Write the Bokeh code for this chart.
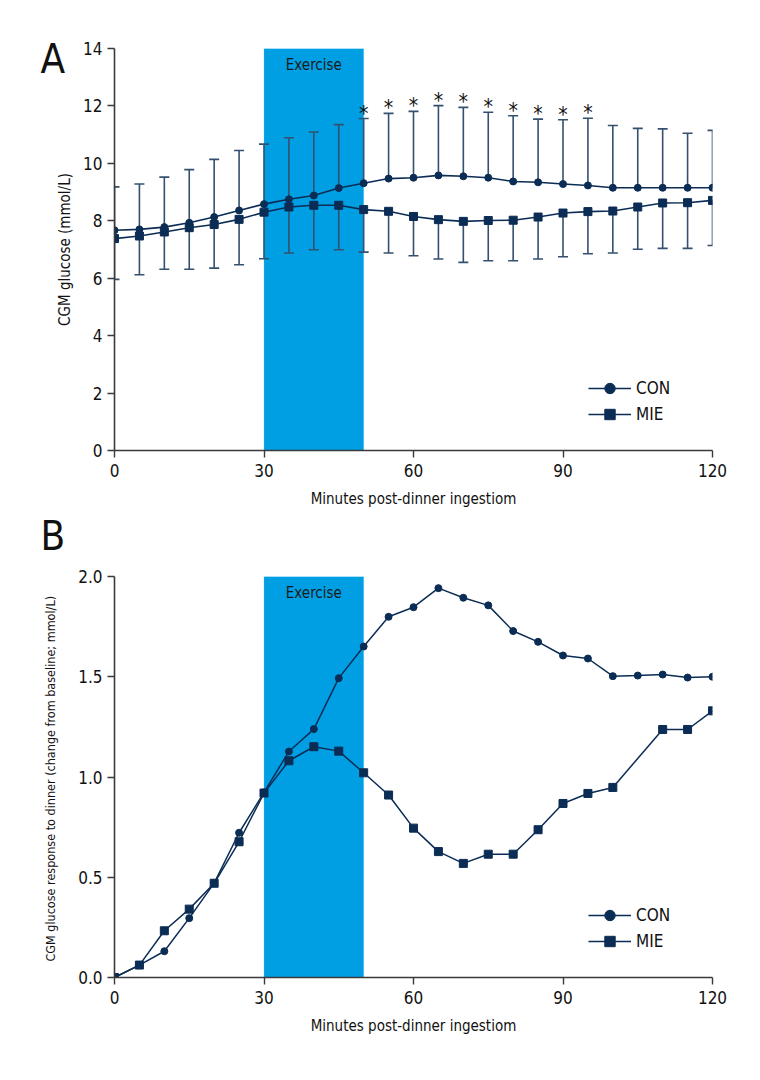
from bokeh.plotting import figure
from bokeh.models import (ColumnDataSource, Legend, LegendItem, Title, BoxAnnotation, FixedTicker)
from bokeh.layouts import column
from bokeh.core.properties import value
from bokeh.embed import file_html
from bokeh.resources import INLINE

FONT = "DejaVu Sans Condensed"
NAVY = "#0b2c54"
ERR = "#34506f"
AX = "#3a3a3a"
BAND = "#009fe3"

# ---------------- data ----------------
minutes = [0, 5, 10, 15, 20, 25, 30, 35, 40, 45, 50, 55, 60, 65, 70, 75, 80, 85, 90, 95, 100, 105, 110, 115, 120]

con_mean = [7.67, 7.70, 7.78, 7.93, 8.13, 8.36, 8.58, 8.75, 8.88, 9.14, 9.31, 9.47, 9.50, 9.58, 9.55,
            9.50, 9.37, 9.34, 9.28, 9.23, 9.15, 9.15, 9.15, 9.15, 9.15]
con_upper = [9.18, 9.28, 9.52, 9.78, 10.14, 10.45, 10.67, 10.89, 11.09, 11.35, 11.56, 11.74, 11.81, 12.01,
             11.95, 11.78, 11.66, 11.54, 11.52, 11.57, 11.32, 11.22, 11.20, 11.05, 11.15]
mie_mean = [7.38, 7.47, 7.61, 7.76, 7.87, 8.05, 8.30, 8.48, 8.54, 8.54, 8.39, 8.33, 8.15, 8.04, 7.98,
            8.01, 8.02, 8.13, 8.27, 8.32, 8.34, 8.48, 8.62, 8.63, 8.71]
mie_lower = [5.96, 6.12, 6.31, 6.31, 6.35, 6.47, 6.68, 6.88, 6.99, 6.99, 6.91, 6.88, 6.78, 6.67, 6.55,
             6.61, 6.61, 6.67, 6.75, 6.85, 6.88, 7.01, 7.04, 7.04, 7.14]
sig_minutes = [50, 55, 60, 65, 70, 75, 80, 85, 90, 95]

con_delta = [0.0, 0.062, 0.131, 0.296, 0.471, 0.722, 0.923, 1.127, 1.239, 1.493, 1.651, 1.799, 1.847,
             1.942, 1.894, 1.856, 1.728, 1.674, 1.606, 1.591, 1.503, 1.506, 1.511, 1.496, 1.500]
mie_minutes = [0, 5, 10, 15, 20, 25, 30, 35, 40, 45, 50, 55, 60, 65, 70, 75, 80, 85, 90, 95, 100, 110, 115, 120]
mie_delta = [0.0, 0.062, 0.233, 0.341, 0.470, 0.677, 0.920, 1.081, 1.151, 1.129, 1.021, 0.910, 0.745,
             0.628, 0.569, 0.615, 0.615, 0.737, 0.868, 0.918, 0.948, 1.237, 1.237, 1.330]

exercise_start, exercise_end = 30, 50
x_ticks = [0, 30, 60, 90, 120]
yA_ticks = [0, 2, 4, 6, 8, 10, 12, 14]
yB_ticks = [0.0, 0.5, 1.0, 1.5, 2.0]
yB_labels = {0: "0.0", 0.5: "0.5", 1: "1.0", 1.5: "1.5", 2: "2.0"}


def style(p, yticks, ylabel, ylabel_size, ylabel_standoff):
    p.xgrid.visible = False
    p.ygrid.visible = False
    p.outline_line_color = None
    p.xaxis.ticker = FixedTicker(ticks=x_ticks)
    p.yaxis.ticker = FixedTicker(ticks=yticks)
    for ax in (p.xaxis[0], p.yaxis[0]):
        ax.axis_line_color = AX
        ax.axis_line_width = 1.6
        ax.major_tick_line_color = AX
        ax.major_tick_line_width = 1.4
        ax.major_tick_in = 0
        ax.major_tick_out = 7
        ax.minor_tick_line_color = None
        ax.major_label_text_font = FONT
        ax.major_label_text_font_size = "17px"
        ax.major_label_text_color = "#111111"
        ax.axis_label_text_font = FONT
        ax.axis_label_text_font_size = "15px"
        ax.axis_label_text_font_style = "normal"
        ax.axis_label_text_color = "#111111"
    p.xaxis.axis_label = "Minutes post-dinner ingestiom"
    p.yaxis.axis_label = ylabel
    p.yaxis.axis_label_text_font_size = ylabel_size
    p.xaxis.major_label_standoff = 6
    p.yaxis.major_label_standoff = 5
    p.xaxis.axis_label_standoff = 10
    p.yaxis.axis_label_standoff = ylabel_standoff


def add_band(p, top):
    p.add_layout(BoxAnnotation(left=exercise_start, right=exercise_end, bottom=0, top=top,
                               fill_color=BAND, fill_alpha=1.0, line_color="#4cc0ef", line_width=1,
                               level="underlay"))
    p.text(x=[(exercise_start + exercise_end) / 2], y=[top], text=["Exercise"],
           text_font=value(FONT), text_font_size="15px", text_color="#1a1a1a",
           text_align="center", text_baseline="top", y_offset=7)


def add_legend(p, con_r, mie_r):
    leg = Legend(items=[LegendItem(label="CON", renderers=con_r),
                        LegendItem(label="MIE", renderers=mie_r)],
                 location=(474, 23), orientation="vertical",
                 glyph_width=43, glyph_height=26, spacing=0, padding=0, margin=0,
                 label_standoff=5, label_text_font=FONT, label_text_font_size="17px",
                 label_text_color="#111111", border_line_color=None,
                 background_fill_alpha=0, label_height=20)
    p.add_layout(leg, "center")


def letter_title(letter, standoff):
    return Title(text=letter, align="left", offset=-74, standoff=standoff,
                 text_font=FONT, text_font_size="40px", text_font_style="normal",
                 text_color="#111111")


# ---------------- Panel A ----------------
pA = figure(width=748, height=562, x_range=(0, 120), y_range=(0, 14),
            output_backend="svg", toolbar_location=None,
            min_border_left=114, min_border_right=36, min_border_top=48, min_border_bottom=112)
style(pA, yA_ticks, "CGM glucose (mmol/L)", "15px", 6)
add_band(pA, 14)

srcA = ColumnDataSource(dict(t=minutes, con=con_mean, cu=con_upper, mie=mie_mean, ml=mie_lower))
pA.segment(x0="t", y0="con", x1="t", y1="cu", source=srcA, line_color=ERR, line_width=1.6)
pA.scatter(x="t", y="cu", source=srcA, marker="dash", size=10, line_color=ERR, line_width=1.6)
pA.segment(x0="t", y0="mie", x1="t", y1="ml", source=srcA, line_color=ERR, line_width=1.6)
pA.scatter(x="t", y="ml", source=srcA, marker="dash", size=10, line_color=ERR, line_width=1.6)
lc = pA.line(x="t", y="con", source=srcA, line_color=NAVY, line_width=1.6)
lm = pA.line(x="t", y="mie", source=srcA, line_color=NAVY, line_width=1.6)
mc = pA.scatter(x="t", y="con", source=srcA, marker="circle", size=7, fill_color=NAVY, line_color=NAVY)
mm = pA.scatter(x="t", y="mie", source=srcA, marker="square", size=8, fill_color=NAVY, line_color=NAVY)

sig_y = [con_upper[minutes.index(m)] for m in sig_minutes]
pA.text(x=sig_minutes, y=sig_y, text=["*"] * len(sig_minutes), text_font=value(FONT),
        text_font_size="21px", text_color="#111111", text_align="center",
        text_baseline="bottom", y_offset=7)
add_legend(pA, [lc, mc], [lm, mm])
pA.add_layout(letter_title("A", -66), "above")
# panel letter "B" sits in the gap between the two panels
pA.add_layout(letter_title("B", 0), "below")

# ---------------- Panel B ----------------
pB = figure(width=748, height=496, x_range=(0, 120), y_range=(0, 2.0),
            output_backend="svg", toolbar_location=None,
            min_border_left=114, min_border_right=36, min_border_top=14, min_border_bottom=81)
style(pB, yB_ticks, "CGM glucose response to dinner (change from baseline;  mmol/L)", "12.5px", 17)
pB.yaxis.major_label_overrides = yB_labels
add_band(pB, 2.0)

srcC = ColumnDataSource(dict(t=minutes, d=con_delta))
srcM = ColumnDataSource(dict(t=mie_minutes, d=mie_delta))
lcB = pB.line(x="t", y="d", source=srcC, line_color=NAVY, line_width=1.5)
lmB = pB.line(x="t", y="d", source=srcM, line_color=NAVY, line_width=1.5)
mcB = pB.scatter(x="t", y="d", source=srcC, marker="circle", size=7, fill_color=NAVY, line_color=NAVY)
mmB = pB.scatter(x="t", y="d", source=srcM, marker="square", size=8, fill_color=NAVY, line_color=NAVY)
add_legend(pB, [lcB, mcB], [lmB, mmB])

layout = column(pA, pB, spacing=0)
open("out.html", "w").write(file_html(layout, INLINE))
